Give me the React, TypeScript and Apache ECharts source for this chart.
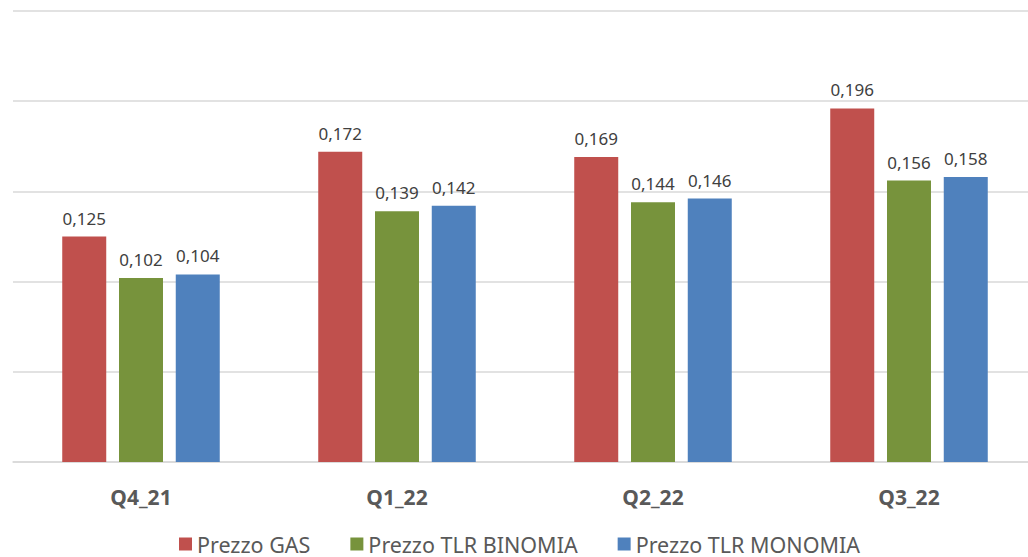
import React, { useEffect, useRef } from "react";
import * as echarts from "echarts";

const categories = ["Q4_21", "Q1_22", "Q2_22", "Q3_22"];
const gasValues = [0.125, 0.172, 0.169, 0.196];
const binomiaValues = [0.102, 0.139, 0.144, 0.156];
const monomiaValues = [0.104, 0.142, 0.146, 0.158];
const seriesNames = ["Prezzo GAS", "Prezzo TLR BINOMIA", "Prezzo TLR MONOMIA"];
const colors = ["#C0504D", "#77933C", "#4F81BD"];

export default function App() {
  const ref = useRef<HTMLDivElement>(null);
  useEffect(() => {
    if (!ref.current) return;
    const chart = echarts.init(ref.current, null, { renderer: "svg" });
    const font = "'Noto Sans', 'Open Sans', sans-serif";
    const mk = (name: string, data: number[], color: string) => ({
      name,
      type: "bar",
      data,
      barWidth: 44,
      barGap: "29%",
      itemStyle: { color },
      label: {
        show: true,
        position: "top",
        distance: 10,
        color: "#404040",
        fontSize: 17,
        fontFamily: font,
        formatter: (p: any) => String(p.value.toFixed(3)).replace(".", ","),
      },
    });
    chart.setOption({
      animation: false,
      textStyle: { fontFamily: font },
      grid: { left: 13, top: 11, width: 1024, height: 451, containLabel: false },
      legend: {
        top: 533,
        left: 179,
        padding: 0,
        itemWidth: 13,
        itemHeight: 13,
        itemGap: 40,
        itemStyle: { borderWidth: 0 },
        icon: "rect",
        textStyle: { color: "#595959", fontSize: 21.5, lineHeight: 20, fontFamily: font },
        data: seriesNames,
      },
      xAxis: {
        type: "category",
        data: categories,
        axisLine: { lineStyle: { color: "#d9d9d9", width: 1.5 } },
        axisTick: { show: false },
        axisLabel: { color: "#595959", fontSize: 21, fontWeight: "bold", margin: 24, fontFamily: font },
      },
      yAxis: {
        type: "value",
        min: 0,
        max: 0.25,
        interval: 0.05,
        axisLabel: { show: false },
        axisLine: { show: false },
        axisTick: { show: false },
        splitLine: { lineStyle: { color: "#d9d9d9", width: 1.5 } },
      },
      series: [
        mk(seriesNames[0], gasValues, colors[0]),
        mk(seriesNames[1], binomiaValues, colors[1]),
        mk(seriesNames[2], monomiaValues, colors[2]),
      ],
    });
    return () => chart.dispose();
  }, []);
  return (
    <div style={{ width: 1028, height: 557, position: "absolute", left: 0, top: 0, overflow: "hidden" }}>
      <div ref={ref} style={{ width: 1040, height: 557 }} />
    </div>
  );
}
